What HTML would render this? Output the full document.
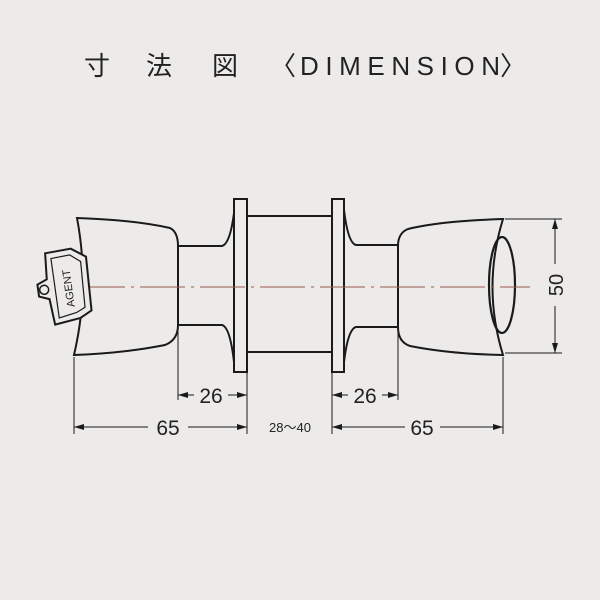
<!DOCTYPE html>
<html><head><meta charset="utf-8"><style>
html,body{margin:0;padding:0;background:#ecebea;}
svg{display:block}
</style></head><body>
<svg width="600" height="600" viewBox="0 0 600 600" xmlns="http://www.w3.org/2000/svg">
<rect width="600" height="600" fill="#ecebea"/>
<g font-family="Liberation Sans, Noto Sans CJK JP, sans-serif" font-size="26" fill="#222">
<text x="84" y="75">寸</text>
<text x="146" y="75">法</text>
<text x="212" y="75">図</text>
<text x="270" y="75">〈</text>
<text x="300" y="75" textLength="200" lengthAdjust="spacing">DIMENSION</text>
<text x="500" y="75">〉</text>
</g>
<g fill="none" stroke="#1a1a1a" stroke-width="2">
<line x1="247" y1="216" x2="333" y2="216"/>
<line x1="247" y1="352" x2="333" y2="352"/>
<rect x="234" y="199" width="13" height="173" fill="#ecebea"/>
<rect x="332" y="199" width="12" height="173" fill="#ecebea"/>
<path d="M178,246 L222,246 Q230,244 234,213"/>
<path d="M178,325 L222,325 Q230,327 234,362"/>
<path d="M398,245 L356,245 Q348,243 344,210"/>
<path d="M398,327 L356,327 Q348,329 344,362"/>
<path d="M77,218 Q135,220 170,228 Q178,232 178,246 L178,325 Q178,340 165,345 Q125,353 74,355 Q90,287 77,218 Z" fill="#ecebea"/>
<path d="M503,219 Q440,221 408,229 Q398,233 398,246 L398,327 Q398,342 410,346 Q450,354 503,355 Q482,287 503,219 Z" fill="#ecebea"/>
<ellipse cx="502" cy="285" rx="13" ry="48" stroke-width="2.2"/>
</g>
<line x1="80" y1="287" x2="530" y2="287" stroke="#9a5a50" stroke-width="1" stroke-dasharray="45,6,3,6"/>
<g stroke="#1a1a1a" stroke-width="2" fill="#ecebea" transform="rotate(-8 64 287)">
<path d="M50,251 L76,250 L90,260 L88,314 L76,320 L50,323 L48,297 L38,293 L38,281 L48,277 Z"/>
<path d="M55,257 L74,256 L84,264 L82,310 L73,314 L55,317 Z" stroke-width="1.2"/>
<circle cx="44" cy="287" r="4.5" stroke-width="1.5"/>
<text transform="translate(72,289) rotate(-90)" text-anchor="middle" font-family="Liberation Sans, sans-serif" font-size="11" fill="#222" stroke="none">AGENT</text>
</g>
<g stroke="#1a1a1a" stroke-width="1">
<line x1="74" y1="357" x2="74" y2="434"/>
<line x1="178" y1="327" x2="178" y2="400"/>
<line x1="247" y1="372" x2="247" y2="434"/>
<line x1="332" y1="372" x2="332" y2="434"/>
<line x1="398" y1="329" x2="398" y2="400"/>
<line x1="503" y1="357" x2="503" y2="434"/>
<line x1="505" y1="219" x2="562" y2="219"/>
<line x1="505" y1="353" x2="562" y2="353"/>
<line x1="178" y1="395" x2="194" y2="395"/><line x1="228" y1="395" x2="247" y2="395"/>
<line x1="74" y1="427" x2="148" y2="427"/><line x1="188" y1="427" x2="247" y2="427"/>
<line x1="332" y1="395" x2="348" y2="395"/><line x1="382" y1="395" x2="398" y2="395"/>
<line x1="332" y1="427" x2="405" y2="427"/><line x1="440" y1="427" x2="503" y2="427"/>
<line x1="555" y1="219" x2="555" y2="264"/><line x1="555" y1="306" x2="555" y2="353"/>
</g>
<g fill="#1a1a1a">
<path d="M178,395 l10,-3 v6z"/><path d="M247,395 l-10,-3 v6z"/>
<path d="M74,427 l10,-3 v6z"/><path d="M247,427 l-10,-3 v6z"/>
<path d="M332,395 l10,-3 v6z"/><path d="M398,395 l-10,-3 v6z"/>
<path d="M332,427 l10,-3 v6z"/><path d="M503,427 l-10,-3 v6z"/>
<path d="M555,219 l-3,10 h6z"/><path d="M555,353 l-3,-10 h6z"/>
</g>
<g font-family="Liberation Sans, sans-serif" fill="#222" text-anchor="middle">
<text x="211" y="403" font-size="21">26</text>
<text x="168" y="435" font-size="21">65</text>
<text x="365" y="403" font-size="21">26</text>
<text x="422" y="435" font-size="21">65</text>
<text x="290" y="432" font-size="13" font-family="Liberation Sans, Noto Sans CJK JP, sans-serif">28～40</text>
<text transform="translate(563,285) rotate(-90)" font-size="20">50</text>
</g>
</svg>
</body></html>
